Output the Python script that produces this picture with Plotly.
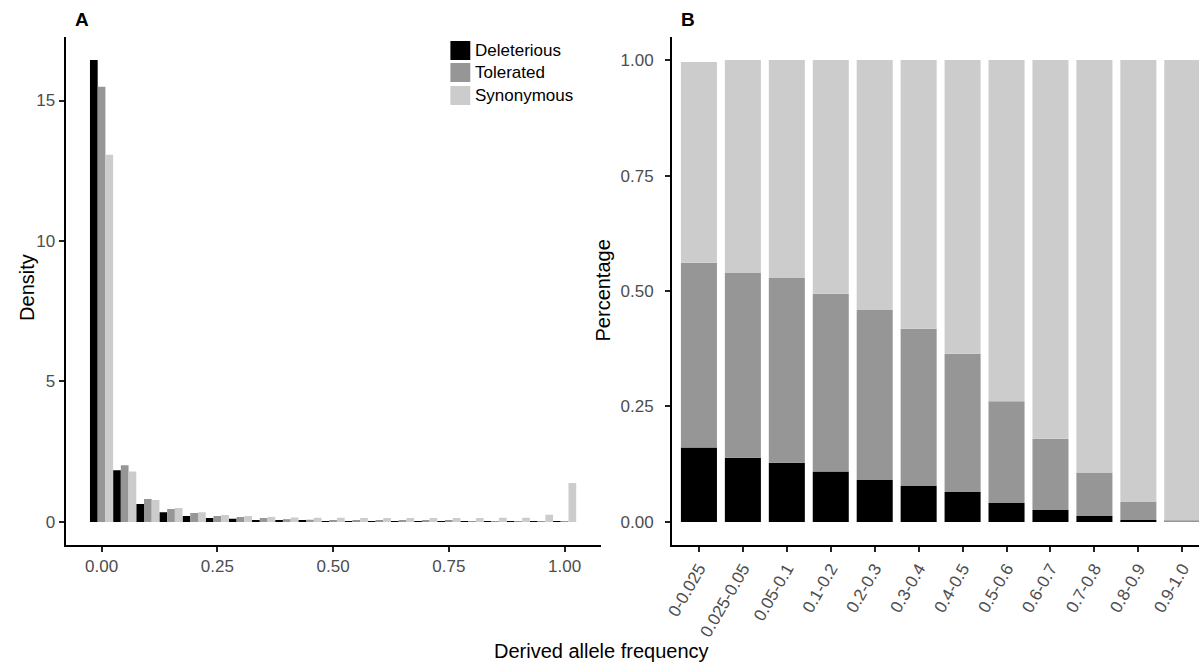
import plotly.graph_objects as go

W, H = 1199, 669
FONT = "Liberation Sans, Arial, Helvetica, sans-serif"

# ---- Panel A: density histogram of derived allele frequency (bin width 0.05)
bin_centers = [0.00, 0.05, 0.10, 0.15, 0.20, 0.25, 0.30, 0.35, 0.40, 0.45, 0.50,
               0.55, 0.60, 0.65, 0.70, 0.75, 0.80, 0.85, 0.90, 0.95, 1.00]
density_deleterious = [16.44, 1.84, 0.64, 0.35, 0.21, 0.14, 0.11, 0.07, 0.05, 0.04, 0.03,
                       0.03, 0.02, 0.02, 0.02, 0.01, 0.01, 0.01, 0.01, 0.01, 0.01]
density_tolerated = [15.49, 2.02, 0.82, 0.46, 0.32, 0.21, 0.18, 0.14, 0.10, 0.08, 0.07,
                     0.06, 0.05, 0.05, 0.04, 0.04, 0.03, 0.03, 0.03, 0.03, 0.03]
density_synonymous = [13.07, 1.80, 0.78, 0.50, 0.35, 0.25, 0.21, 0.18, 0.16, 0.15, 0.15,
                      0.14, 0.14, 0.14, 0.14, 0.14, 0.14, 0.15, 0.15, 0.26, 1.39]
bin_width = 0.05

# ---- Panel B: share of each class within frequency classes
freq_classes = ["0-0.025", "0.025-0.05", "0.05-0.1", "0.1-0.2", "0.2-0.3", "0.3-0.4",
                "0.4-0.5", "0.5-0.6", "0.6-0.7", "0.7-0.8", "0.8-0.9", "0.9-1.0"]
share_deleterious = [0.161, 0.139, 0.128, 0.109, 0.091, 0.078, 0.065, 0.041, 0.026, 0.013, 0.004, 0.001]
share_tolerated = [0.400, 0.400, 0.400, 0.385, 0.368, 0.340, 0.299, 0.220, 0.154, 0.094, 0.039, 0.002]
share_synonymous = [0.435, 0.461, 0.472, 0.506, 0.541, 0.582, 0.636, 0.739, 0.820, 0.893, 0.957, 0.997]

classes = ["Deleterious", "Tolerated", "Synonymous"]
colors = ["#000000", "#969696", "#cccccc"]

fig = go.Figure()

# Dodged histogram bars
for k, (name, vals, col) in enumerate(zip(classes,
                                          [density_deleterious, density_tolerated, density_synonymous],
                                          colors)):
    fig.add_trace(go.Bar(
        x=bin_centers, y=vals, name=name,
        width=bin_width / 3, offset=-bin_width / 2 + k * bin_width / 3,
        marker=dict(color=col, line=dict(width=0)),
        xaxis="x", yaxis="y", showlegend=False,
    ))

# Stacked proportion bars
base = [0.0] * len(freq_classes)
for name, vals, col in zip(classes, [share_deleterious, share_tolerated, share_synonymous], colors):
    fig.add_trace(go.Bar(
        x=freq_classes, y=vals, base=base, name=name, width=0.82,
        marker=dict(color=col, line=dict(width=0)),
        xaxis="x2", yaxis="y2", showlegend=False,
    ))
    base = [b + v for b, v in zip(base, vals)]


def px_x(p):
    return p / W


def px_y(p):
    return 1 - p / H


tick_font = dict(family=FONT, size=17, color="#4d4d4d")
axis_common = dict(showline=True, linecolor="black", linewidth=2, ticks="outside",
                   ticklen=5, tickwidth=1.5, tickcolor="#222222", showgrid=False,
                   zeroline=False, tickfont=tick_font)

ydom = [px_y(545), px_y(37)]

fig.update_layout(
    width=W, height=H, margin=dict(l=0, r=0, t=0, b=0),
    paper_bgcolor="white", plot_bgcolor="white", barmode="overlay",
    font=dict(family=FONT),
    xaxis=dict(domain=[px_x(59), px_x(597)], range=[-0.0775, 1.0775],
               tickvals=[0, 0.25, 0.5, 0.75, 1.0], tickformat=".2f", anchor="y",
               **axis_common),
    yaxis=dict(domain=ydom, range=[-0.82, 17.26], tickvals=[0, 5, 10, 15],
               anchor="x", **axis_common),
    xaxis2=dict(domain=[px_x(669), 1.0], range=[-0.611, 11.38], type="category",
                tickangle=-60, anchor="y2", **axis_common),
    yaxis2=dict(domain=ydom, range=[-0.05, 1.05], tickvals=[0, 0.25, 0.5, 0.75, 1.0],
                tickformat=".2f", anchor="x2", ticklabelstandoff=8, **axis_common),
)

annotations = [
    dict(text="<b>A</b>", x=px_x(75), y=px_y(19), font=dict(size=19, color="black")),
    dict(text="<b>B</b>", x=px_x(685), y=px_y(19), font=dict(size=19, color="black")),
    dict(text="Density", x=px_x(20), y=px_y(287), textangle=-90,
         font=dict(size=20, color="black")),
    dict(text="Percentage", x=px_x(600), y=px_y(290), textangle=-90,
         font=dict(size=20, color="black")),
    dict(text="Derived allele frequency", x=px_x(598), y=px_y(651),
         font=dict(size=20, color="black")),
]

# Legend for panel A: filled keys with labels
key_tops = [41, 63, 86]
key_bottoms = [60, 82, 105]
shapes = []
for name, col, t, b in zip(classes, colors, key_tops, key_bottoms):
    shapes.append(dict(type="rect", xref="paper", yref="paper",
                       x0=px_x(446), x1=px_x(466), y0=px_y(b), y1=px_y(t),
                       fillcolor=col, line=dict(width=0)))
    annotations.append(dict(text=name, x=px_x(469), y=px_y((t + b) / 2), xanchor="left",
                            font=dict(size=17, color="black")))

for a in annotations:
    a.setdefault("xref", "paper")
    a.setdefault("yref", "paper")
    a.setdefault("showarrow", False)
    a.setdefault("xanchor", "center")
    a.setdefault("yanchor", "middle")

fig.update_layout(annotations=annotations, shapes=shapes)

fig.write_html("out.html")
